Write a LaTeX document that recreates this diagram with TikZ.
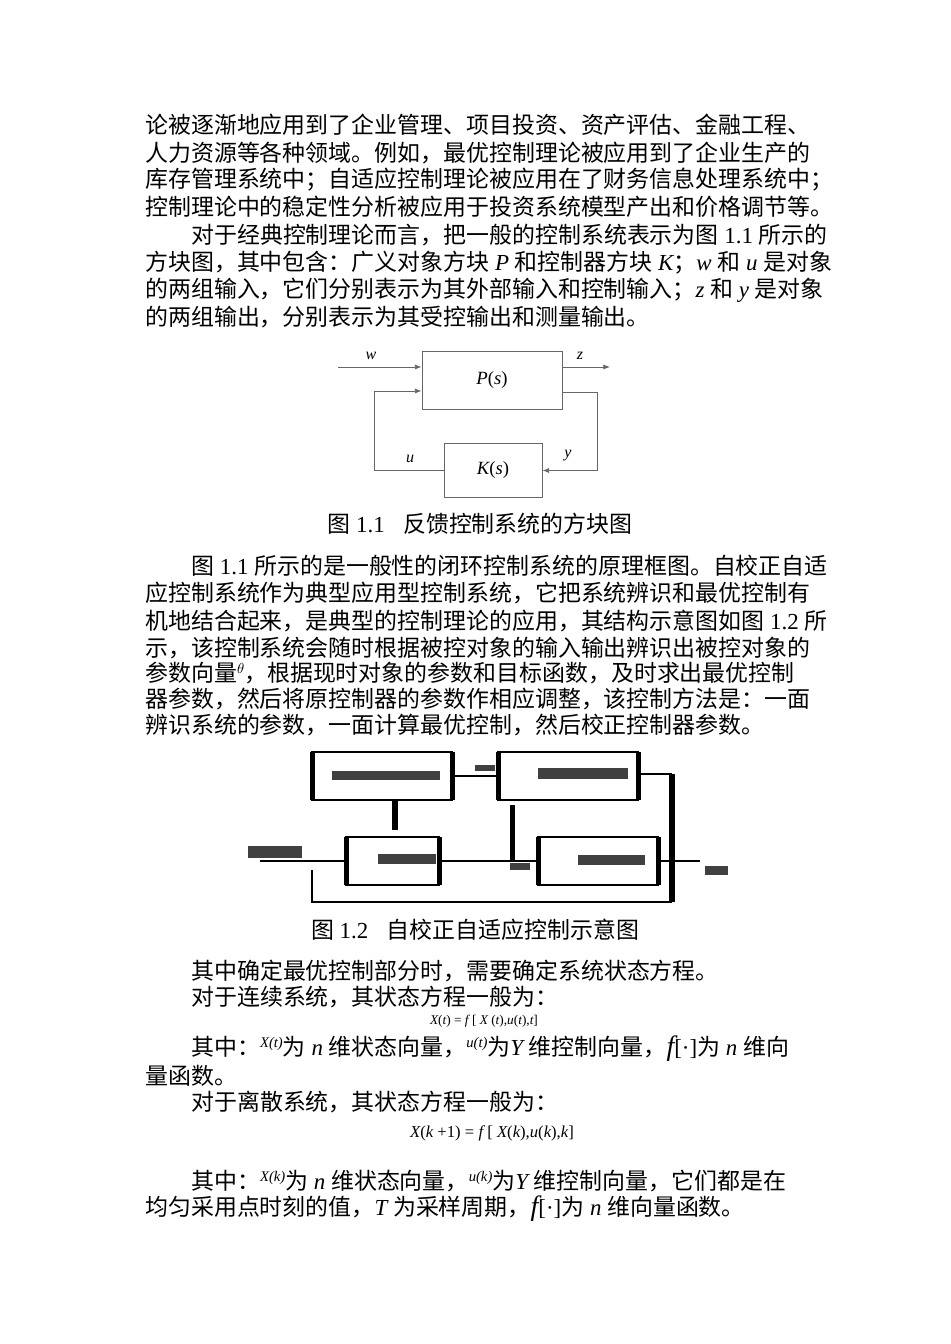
\documentclass[tikz,border=0pt]{standalone}
\usepackage{fontspec}
\setmainfont{Noto Sans CJK SC}
\newfontfamily\en{Liberation Serif}
\usetikzlibrary{arrows.meta, positioning}
\newcommand{\mi}[1]{{\en\itshape #1}}
\newcommand{\nm}[1]{{\en #1}}
\newcommand{\sm}[1]{\raisebox{0.35em}{\fontsize{11}{11}\selectfont\en\itshape #1}}

\begin{document}
\begin{tikzpicture}[x=0.75pt,y=-0.75pt]
  \tikzstyle{txt}=[anchor=west,inner sep=0pt,font=\fontsize{17.2}{20}\selectfont]
  \tikzstyle{capline}=[inner sep=0pt,font=\fontsize{17.2}{20}\selectfont]
  \tikzstyle{pbox}=[draw=black!60,line width=0.6pt,minimum width=105pt,minimum height=43pt]
  \tikzstyle{kbox}=[draw=black!60,line width=0.6pt,minimum width=73.5pt,minimum height=41pt]
  \tikzstyle{wire}=[draw=black!60,line width=0.6pt]
  \tikzstyle{sig}=[font=\fontsize{12}{12}\selectfont]
  \tikzstyle{blur}=[fill=black!75]

  \fill[white] (0,0) rectangle (950,1344);

  % first paragraph
  \node[txt] (a1) at (145,125) {论被逐渐地应用到了企业管理、项目投资、资产评估、金融工程、};
  \node[txt] (a2) at (145,153) {人力资源等各种领域。例如，最优控制理论被应用到了企业生产的};
  \node[txt] (a3) at (145,180) {库存管理系统中；自适应控制理论被应用在了财务信息处理系统中；};
  \node[txt] (a4) at (145,207) {控制理论中的稳定性分析被应用于投资系统模型产出和价格调节等。};
  \node[txt] (b1) at (191,235) {对于经典控制理论而言，把一般的控制系统表示为图\nm{ 1.1 }所示的};
  \node[txt] (b2) at (145,263) {方块图，其中包含：广义对象方块\mi{ P }和控制器方块\mi{ K}；\mi{w }和\mi{ u }是对象};
  \node[txt] (b3) at (145,290) {的两组输入，它们分别表示为其外部输入和控制输入；\mi{z }和\mi{ y }是对象};
  \node[txt] (b4) at (145,317) {的两组输出，分别表示为其受控输出和测量输出。};

  % figure 1.1
  \node[pbox] (P) at (492,380.5) {\fontsize{14}{14}\selectfont\mi{P}\nm{(}\mi{s}\nm{)}};
  \node[kbox] (K) at (493,470.5) {\fontsize{14}{14}\selectfont\mi{K}\nm{(}\mi{s}\nm{)}};
  \coordinate (win) at (338,367);
  \coordinate (zout) at (610,367);
  \coordinate (ul) at (374,470.5);
  \coordinate (yr) at (597,470.5);
  \draw[wire,-{Latex[length=5pt]}] (win) -- (win -| P.west);
  \draw[wire,-{Latex[length=5pt]}] (P.east |- zout) -- (zout);
  \draw[wire,-{Latex[length=5pt]}] (K.west) -- (ul) -- (ul |- 0,391) -- (P.west |- 0,391);
  \draw[wire,-{Latex[length=5pt]}] (P.east |- 0,392) -- (yr |- 0,392) -- (yr) -- (K.east);
  \node[sig] (lw) at (371,356) {\mi{w}};
  \node[sig] (lz) at (580,356) {\mi{z}};
  \node[sig] (lu) at (410,459) {\mi{u}};
  \node[sig] (ly) at (568,456) {\mi{y}};
  \node[capline] (c1) at (480,524) {图\nm{ 1.1}\hspace{0.8em}反馈控制系统的方块图};

  % second paragraph
  \node[txt] (d1) at (191,566) {图\nm{ 1.1 }所示的是一般性的闭环控制系统的原理框图。自校正自适};
  \node[txt] (d2) at (145,593) {应控制系统作为典型应用型控制系统，它把系统辨识和最优控制有};
  \node[txt] (d3) at (145,621) {机地结合起来，是典型的控制理论的应用，其结构示意图如图\nm{ 1.2 }所};
  \node[txt] (d4) at (145,648) {示，该控制系统会随时根据被控对象的输入输出辨识出被控对象的};
  \node[txt] (d5) at (145,673) {参数向量\sm{$\theta$}，根据现时对象的参数和目标函数，及时求出最优控制};
  \node[txt] (d6) at (145,699) {器参数，然后将原控制器的参数作相应调整，该控制方法是：一面};
  \node[txt] (d7) at (145,725) {辨识系统的参数，一面计算最优控制，然后校正控制器参数。};

  % figure 1.2
  \draw[line width=1pt] (312,752) rectangle (452,800);
  \draw[line width=1pt] (498,752) rectangle (638,800);
  \draw[line width=1pt] (346,837) rectangle (439,885);
  \draw[line width=1pt] (538,837) rectangle (658,885);
  \foreach \xa/\ya/\yb in {312/752/800, 452/752/800, 498/752/800, 638/752/800,
                          346/837/885, 439/837/885, 538/837/885, 658/837/885}
    \fill (\xa-2.5,\ya) rectangle (\xa+2.5,\yb);
  \fill[blur] (332,771) rectangle (440,780);
  \fill[blur] (538,768) rectangle (628,779);
  \fill[blur] (378,854) rectangle (436,864);
  \fill[blur] (578,855) rectangle (645,865);
  \fill[blur] (248,846) rectangle (302,858);
  \fill[blur] (475,765) rectangle (495,771);
  \fill[blur] (510,863) rectangle (530,870);
  \fill[blur] (705,866) rectangle (728,875);
  \draw[line width=1pt] (452,776) -- (498,776);
  \draw[line width=1pt] (638,774) -- (672,774);
  \fill (669,774) rectangle (675,902);
  \draw[line width=1.5pt] (672,902) -- (312,902) -- (312,870);
  \draw[line width=1pt] (260,861) -- (346,861);
  \draw[line width=1pt] (439,861) -- (538,861);
  \draw[line width=1pt] (658,861) -- (700,861);
  \fill (510,805) rectangle (515,861);
  \fill (392,800) rectangle (398,830);
  \node[capline] (c2) at (475,930) {图\nm{ 1.2}\hspace{0.8em}自校正自适应控制示意图};

  % state equations
  \node[txt] (e1) at (191,971) {其中确定最优控制部分时，需要确定系统状态方程。};
  \node[txt] (e2) at (191,997) {对于连续系统，其状态方程一般为：};
  \node[font=\fontsize{10}{10}\selectfont] (q1) at (484,1021) {\mi{X}\nm{(}\mi{t}\nm{) = }\mi{f}\nm{ [ }\mi{X}\nm{ (}\mi{t}\nm{),}\mi{u}\nm{(}\mi{t}\nm{),}\mi{t}\nm{]}};
  \node[txt] (e3) at (191,1049) {其中：\sm{X(t)}为\mi{ n }维状态向量，\sm{u(t)}为\mi{Y }维控制向量，\mi{\fontsize{21}{21}\selectfont f}\nm{[·]}为\mi{ n }维向};
  \node[txt] (e4) at (145,1076) {量函数。};
  \node[txt] (e5) at (191,1102) {对于离散系统，其状态方程一般为：};
  \node[font=\fontsize{12.5}{13}\selectfont] (q2) at (492,1133) {\mi{X}\nm{(}\mi{k}\nm{ +1) = }\mi{f}\nm{ [ }\mi{X}\nm{(}\mi{k}\nm{),}\mi{u}\nm{(}\mi{k}\nm{),}\mi{k}\nm{]}};
  \node[txt] (e6) at (191,1181) {其中：\sm{X(k)}为\mi{ n }维状态向量，\sm{u(k)}为\mi{Y }维控制向量，它们都是在};
  \node[txt] (e7) at (145,1209) {均匀采用点时刻的值，\mi{T }为采样周期，\mi{\fontsize{21}{21}\selectfont f}\nm{[·]}为\mi{ n }维向量函数。};
\end{tikzpicture}
\end{document}
